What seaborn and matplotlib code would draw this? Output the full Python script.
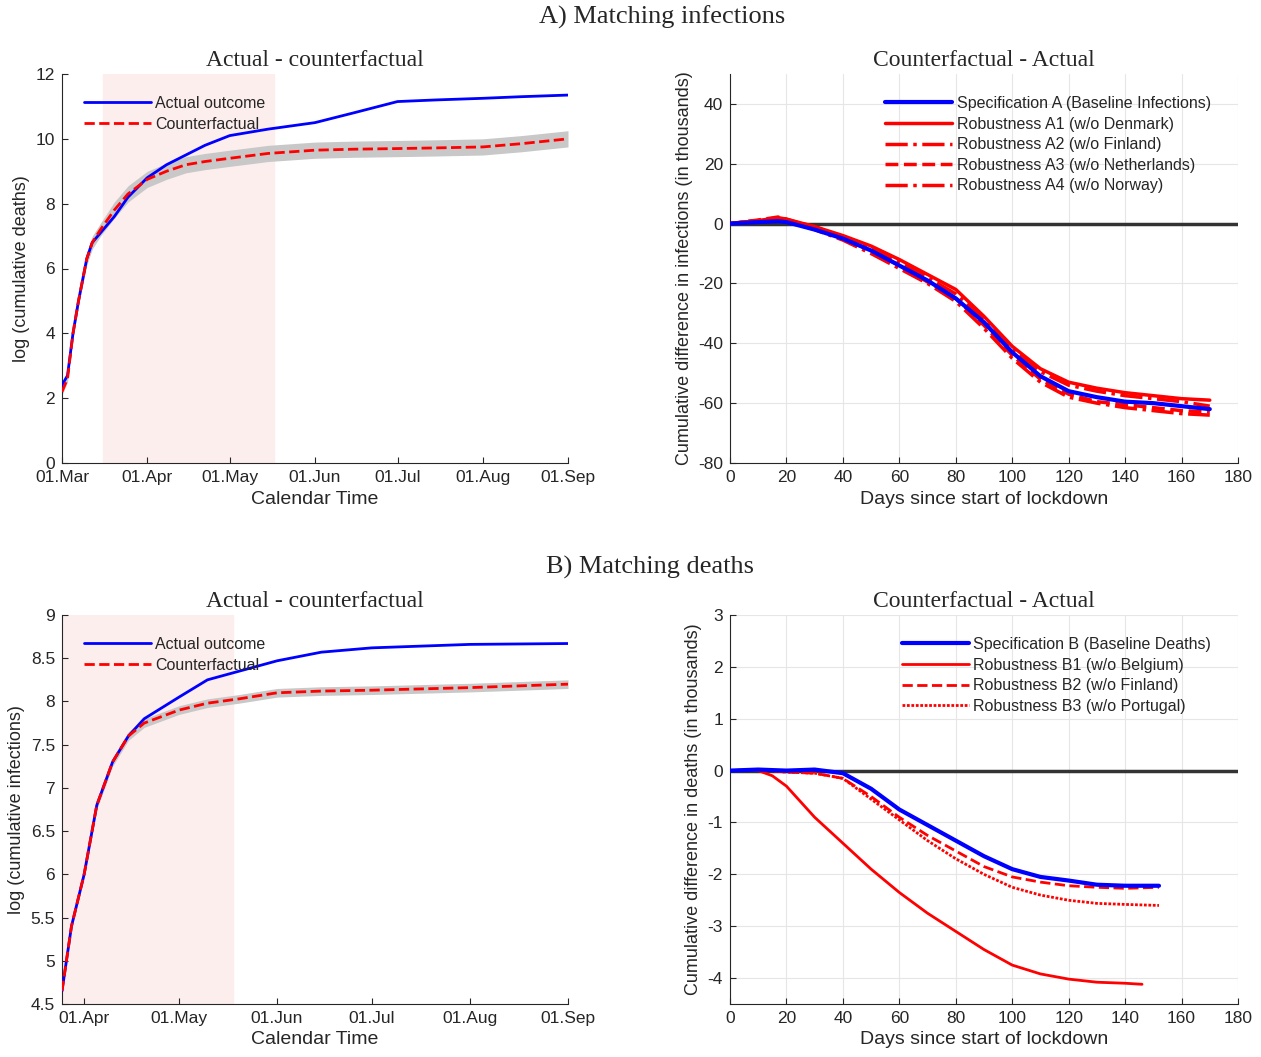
import pandas as pd
import numpy as np
import matplotlib.pyplot as plt
import matplotlib.dates as mdates
import seaborn as sns

sns.set_style('white')
plt.rcParams['font.family'] = ['Liberation Sans', 'DejaVu Sans']
plt.rcParams['axes.unicode_minus'] = False
SERIF = 'Liberation Serif'

# ---- top left: log cumulative deaths ----
tl_dates = pd.to_datetime(['2020-03-01', '2020-03-03', '2020-03-05', '2020-03-07', '2020-03-10', '2020-03-12',
                           '2020-03-15', '2020-03-20', '2020-03-25', '2020-04-01', '2020-04-08', '2020-04-15',
                           '2020-04-22', '2020-05-01', '2020-05-15', '2020-06-01', '2020-06-15', '2020-07-01',
                           '2020-07-15', '2020-08-01', '2020-08-15', '2020-09-01'])
tl_actual = [2.4, 2.7, 4.0, 5.0, 6.3, 6.8, 7.1, 7.6, 8.2, 8.8, 9.2, 9.5, 9.8, 10.1, 10.3, 10.5, 10.8, 11.15, 11.2, 11.25, 11.3, 11.35]
tl_cf = [2.2, 2.6, 4.0, 5.0, 6.3, 6.8, 7.2, 7.8, 8.3, 8.75, 9.0, 9.2, 9.3, 9.4, 9.55, 9.65, 9.68, 9.7, 9.72, 9.75, 9.85, 10.0]
tl_band = [0.1, 0.1, 0.15, 0.15, 0.2, 0.2, 0.2, 0.25, 0.25, 0.25, 0.25, 0.25, 0.25, 0.25, 0.25, 0.25, 0.25, 0.25, 0.25, 0.25, 0.25, 0.25]
tl_shade = pd.to_datetime(['2020-03-16', '2020-05-17'])

# ---- bottom left: log cumulative infections ----
bl_dates = pd.to_datetime(['2020-03-25', '2020-03-28', '2020-04-01', '2020-04-05', '2020-04-10', '2020-04-15',
                           '2020-04-20', '2020-05-01', '2020-05-10', '2020-05-20', '2020-06-01', '2020-06-15',
                           '2020-07-01', '2020-08-01', '2020-09-01'])
bl_actual = [4.65, 5.4, 6.0, 6.8, 7.3, 7.6, 7.8, 8.05, 8.25, 8.35, 8.47, 8.57, 8.62, 8.66, 8.67]
bl_cf = [4.65, 5.4, 6.0, 6.8, 7.3, 7.6, 7.75, 7.9, 7.98, 8.03, 8.1, 8.12, 8.13, 8.16, 8.2]
bl_band = [0.03, 0.03, 0.04, 0.05, 0.05, 0.05, 0.05, 0.05, 0.05, 0.05, 0.05, 0.05, 0.05, 0.05, 0.05]
bl_shade = pd.to_datetime(['2020-03-25', '2020-05-18'])

# ---- top right: infections difference ----
tr_days = [0, 10, 17, 20, 30, 40, 50, 60, 70, 80, 90, 100, 110, 120, 130, 140, 150, 160, 170]
tr_specA = [0, 0.5, 0.8, 0.5, -2, -5, -9, -14, -19, -25, -33, -43, -51, -56, -58, -59.5, -60, -61, -62]
tr_A1 = [0, 1.0, 2.0, 1.5, -1, -4, -7.5, -12, -17, -22, -31, -41, -48.5, -53, -55, -56.5, -57.5, -58.5, -59]
tr_A2 = [0, 1.0, 1.8, 1.0, -2, -5.5, -10, -15, -20, -26, -35, -45, -53, -58, -60, -61.5, -62.5, -63.5, -64]
tr_A3 = [0, 1.2, 2.2, 1.5, -1.5, -5, -9, -14, -19.5, -25, -34, -44, -52, -57, -59.5, -60.5, -61.5, -62.5, -63]
tr_A4 = [0, 1.0, 1.8, 1.2, -1, -4.5, -8.5, -13, -18, -23.5, -32, -42, -49.5, -54, -56, -57.5, -58.5, -59.5, -61]

# ---- bottom right: deaths difference ----
br_days = [0, 10, 20, 30, 40, 50, 60, 70, 80, 90, 100, 110, 120, 130, 140, 152]
br_specB = [0, 0.02, 0, 0.02, -0.05, -0.35, -0.75, -1.05, -1.35, -1.65, -1.9, -2.05, -2.12, -2.2, -2.22, -2.22]
br_B1_days = [0, 10, 15, 20, 30, 40, 50, 60, 70, 80, 90, 100, 110, 120, 130, 140, 146]
br_B1 = [0, 0, -0.1, -0.3, -0.9, -1.4, -1.9, -2.35, -2.75, -3.1, -3.45, -3.75, -3.92, -4.02, -4.08, -4.1, -4.12]
br_B2 = [0, 0.02, -0.03, -0.05, -0.15, -0.5, -0.9, -1.25, -1.55, -1.85, -2.05, -2.15, -2.22, -2.25, -2.27, -2.25]
br_B3 = [0, 0.02, -0.03, -0.05, -0.15, -0.55, -0.95, -1.35, -1.7, -2.0, -2.25, -2.4, -2.5, -2.56, -2.58, -2.6]

fig = plt.figure(figsize=(12.61, 10.57), dpi=100)
W, H = 1261, 1057
def box(x0, y0, x1, y1):
    return [x0 / W, 1 - y1 / H, (x1 - x0) / W, (y1 - y0) / H]

ax_tl = fig.add_axes(box(62, 74, 568, 463))
ax_tr = fig.add_axes(box(730, 74, 1238, 463))
ax_bl = fig.add_axes(box(62, 615, 568, 1004))
ax_br = fig.add_axes(box(730, 615, 1238, 1004))

fig.text(662 / W, 1 - 17 / H, 'A) Matching infections', family=SERIF, fontsize=19, ha='center', va='center')
fig.text(650 / W, 1 - 567 / H, 'B) Matching deaths', family=SERIF, fontsize=19, ha='center', va='center')

LEG = dict(frameon=False, fontsize=11.5, handlelength=4.2, handletextpad=0.3, labelspacing=0.35)


def left_panel(ax, dates, actual, cf, band, shade, ylim, yticks, ylabel, xstart):
    ax.axvspan(shade[0], shade[1], color='#fdeeee', zorder=0)
    cf = np.array(cf)
    band = np.array(band)
    ax.fill_between(dates, cf - band, cf + band, color='#c8c8c8', lw=0, zorder=1)
    sns.lineplot(x=dates, y=actual, ax=ax, color='blue', lw=2, label='Actual outcome', zorder=3)
    sns.lineplot(x=dates, y=cf, ax=ax, color='red', lw=2, ls='--', label='Counterfactual', zorder=4)
    ax.set_xlim(pd.Timestamp(xstart), pd.Timestamp('2020-09-01'))
    ax.set_ylim(*ylim)
    ax.set_yticks(yticks)
    ticks = pd.to_datetime(['2020-03-01', '2020-04-01', '2020-05-01', '2020-06-01', '2020-07-01', '2020-08-01', '2020-09-01'])
    ticks = [t for t in ticks if t >= pd.Timestamp(xstart)]
    ax.set_xticks(ticks)
    ax.xaxis.set_major_formatter(mdates.DateFormatter('%d.%b'))
    ax.set_xlabel('Calendar Time', fontsize=14)
    ax.set_ylabel(ylabel, fontsize=13)
    ax.set_title('Actual - counterfactual', family=SERIF, fontsize=17)
    ax.legend(loc='upper left', bbox_to_anchor=(0.03, 0.96), borderaxespad=0, **LEG)


def style(ax):
    sns.despine(ax=ax)
    for s in ['left', 'bottom']:
        ax.spines[s].set_color('#262626')
        ax.spines[s].set_linewidth(0.8)
    ax.tick_params(direction='in', length=4, labelsize=12.5, colors='#262626', left=True, bottom=True, pad=5)


left_panel(ax_tl, tl_dates, tl_actual, tl_cf, tl_band, tl_shade, (0, 12), range(0, 13, 2),
           'log (cumulative deaths)', '2020-03-01')
left_panel(ax_bl, bl_dates, bl_actual, bl_cf, bl_band, bl_shade, (4.5, 9), np.arange(4.5, 9.01, 0.5),
           'log (cumulative infections)', '2020-03-25')
ax_bl.set_yticklabels(['4.5', '5', '5.5', '6', '6.5', '7', '7.5', '8', '8.5', '9'])

# top right
ax_tr.axhline(0, color='#333333', lw=2.5, zorder=1)
sns.lineplot(x=tr_days, y=tr_specA, ax=ax_tr, color='blue', lw=3, label='Specification A (Baseline Infections)', zorder=5)
sns.lineplot(x=tr_days, y=tr_A1, ax=ax_tr, color='red', lw=2.5, label='Robustness A1 (w/o Denmark)')
sns.lineplot(x=tr_days, y=tr_A2, ax=ax_tr, color='red', lw=2.5, ls='-.', label='Robustness A2 (w/o Finland)')
sns.lineplot(x=tr_days, y=tr_A3, ax=ax_tr, color='red', lw=2.5, ls='--', label='Robustness A3 (w/o Netherlands)')
sns.lineplot(x=tr_days, y=tr_A4, ax=ax_tr, color='red', lw=2.5, ls='-.', label='Robustness A4 (w/o Norway)')
ax_tr.set_xlim(0, 180)
ax_tr.set_ylim(-80, 50)
ax_tr.set_yticks(range(-80, 41, 20))
ax_tr.set_xticks(range(0, 181, 20))
ax_tr.set_xlabel('Days since start of lockdown', fontsize=14)
ax_tr.set_ylabel('Cumulative difference in infections (in thousands)', fontsize=13)
ax_tr.set_title('Counterfactual - Actual', family=SERIF, fontsize=17)
ax_tr.grid(True, color='#e6e6e6', lw=0.8)
ax_tr.legend(loc='upper right', bbox_to_anchor=(0.96, 0.96), borderaxespad=0, **LEG)

# bottom right
ax_br.axhline(0, color='#333333', lw=2.5, zorder=1)
sns.lineplot(x=br_days, y=br_specB, ax=ax_br, color='blue', lw=3, label='Specification B (Baseline Deaths)', zorder=5)
sns.lineplot(x=br_B1_days, y=br_B1, ax=ax_br, color='red', lw=2, label='Robustness B1 (w/o Belgium)')
sns.lineplot(x=br_days, y=br_B2, ax=ax_br, color='red', lw=2, ls='--', label='Robustness B2 (w/o Finland)')
sns.lineplot(x=br_days, y=br_B3, ax=ax_br, color='red', lw=2, ls=(0, (1, 0.6)), label='Robustness B3 (w/o Portugal)')
ax_br.set_xlim(0, 180)
ax_br.set_ylim(-4.5, 3)
ax_br.set_yticks(range(-4, 4))
ax_br.set_xticks(range(0, 181, 20))
ax_br.set_xlabel('Days since start of lockdown', fontsize=14)
ax_br.set_ylabel('Cumulative difference in deaths (in thousands)', fontsize=13)
ax_br.set_title('Counterfactual - Actual', family=SERIF, fontsize=17)
ax_br.grid(True, color='#e6e6e6', lw=0.8)
ax_br.legend(loc='upper right', bbox_to_anchor=(0.96, 0.96), borderaxespad=0, **LEG)

for ax in [ax_tl, ax_tr, ax_bl, ax_br]:
    style(ax)

fig.savefig('out.png', dpi=100)
